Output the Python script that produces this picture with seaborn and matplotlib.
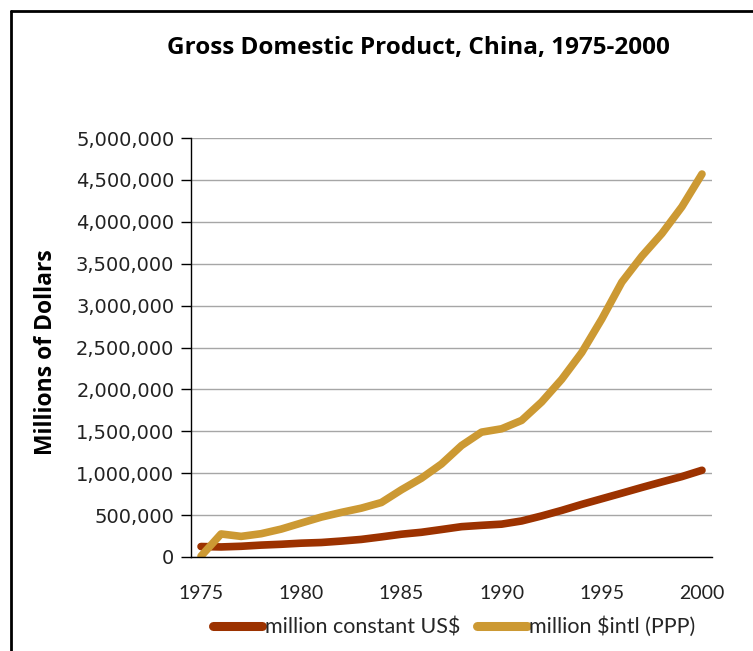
import pandas as pd
import matplotlib
matplotlib.use("Agg")
import matplotlib.pyplot as plt
import seaborn as sns
from matplotlib.ticker import FuncFormatter
from matplotlib.lines import Line2D

# years on the category axis
years = list(range(1975, 2001))

# GDP, million constant US$
constant_usd = [125000, 120000, 128000, 142000, 152000, 165000, 173000, 190000,
                210000, 240000, 272000, 295000, 328000, 362000, 378000, 392000,
                430000, 490000, 556000, 628000, 695000, 762000, 830000, 896000,
                960000, 1035000]

# GDP, million $intl (PPP)
intl_ppp = [10000, 275000, 246000, 278000, 333000, 405000, 476000, 532000,
            583000, 650000, 802000, 940000, 1110000, 1330000, 1490000, 1530000,
            1630000, 1850000, 2120000, 2440000, 2840000, 3280000, 3590000,
            3860000, 4180000, 4570000]

series_names = ["million constant US$", "million $intl (PPP)"]
colors = ["#9c3200", "#cc9933"]

df = pd.DataFrame({
    "year": years * 2,
    "gdp": constant_usd + intl_ppp,
    "series": [series_names[0]] * len(years) + [series_names[1]] * len(years),
})

sns.set_style("white")
plt.rcParams["font.family"] = ["DejaVu Sans"]

fig = plt.figure(figsize=(7.53, 6.51), dpi=100)
ax = fig.add_axes([191 / 753, 1 - 557 / 651, (712 - 191) / 753, (557 - 138) / 651])

sns.lineplot(data=df, x="year", y="gdp", hue="series", palette=colors,
             linewidth=5.5, solid_capstyle="round", solid_joinstyle="round",
             ax=ax, legend=False)

ax.set_xlim(1974.5, 2000.5)
ax.set_ylim(0, 5000000)
ax.set_xticks(range(1975, 2001, 5))
ax.set_yticks(range(0, 5000001, 500000))
ax.yaxis.set_major_formatter(FuncFormatter(lambda v, p: f"{int(v):,}"))
ax.grid(axis="y", color="#a6a6a6", linewidth=1)
ax.set_axisbelow(True)

for s in ["top", "right"]:
    ax.spines[s].set_visible(False)
ax.spines["left"].set_color("black")
ax.spines["bottom"].set_color("black")
ax.spines["left"].set_linewidth(1)
ax.spines["bottom"].set_linewidth(1)

ax.tick_params(axis="y", length=7, width=1, color="black", direction="out",
               left=True, labelsize=14, pad=5, labelcolor="#222222")
ax.tick_params(axis="x", length=0, labelsize=14, pad=20, labelcolor="#222222")
for lab in ax.get_xticklabels():
    lab.set_family("Lato")

ax.set_xlabel("")
ax.set_ylabel("")
fig.text(46 / 753, 1 - 352 / 651, "Millions of Dollars", rotation=90,
         ha="center", va="center", fontsize=16.5, fontweight="bold",
         family="Open Sans", color="black")
fig.text(418 / 753, 1 - 48 / 651, "Gross Domestic Product, China, 1975-2000",
         ha="center", va="center", fontsize=17.5, fontweight="bold",
         family="Open Sans", color="black")

handles = [Line2D([], [], color=c, linewidth=6.5, solid_capstyle="round") for c in colors]
fig.legend(handles, series_names, loc="center", bbox_to_anchor=(454 / 753, 1 - 627 / 651),
           ncol=2, frameon=False, handlelength=2.3, handletextpad=0.1,
           columnspacing=0.8, prop={"family": "Lato", "size": 15.5})

# outer chart frame (top and left edges visible)
fig.add_artist(plt.Line2D([11 / 753, 1], [1 - 11 / 651, 1 - 11 / 651],
                          transform=fig.transFigure, color="black", linewidth=2))
fig.add_artist(plt.Line2D([11 / 753, 11 / 753], [0, 1 - 11 / 651],
                          transform=fig.transFigure, color="black", linewidth=2))

fig.savefig("out.png", dpi=100)
